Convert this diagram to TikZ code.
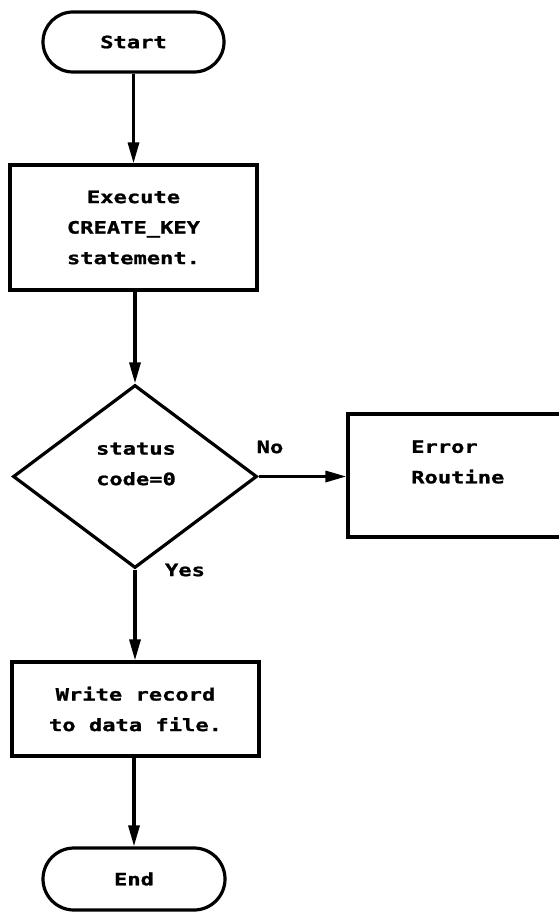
\documentclass[tikz,border=0pt]{standalone}
\usepackage{fontspec}
\newfontfamily\plotfont{DejaVu Sans Mono Bold}[FakeStretch=1.3, FakeBold=1.2]
\usetikzlibrary{shapes.geometric,shapes.misc,arrows.meta}
\begin{document}
\begin{tikzpicture}[x=1pt,y=-1pt,
  every node/.style={font=\plotfont\fontsize{17pt}{30.5pt}\selectfont, align=center, inner sep=0pt},
  outline/.style={draw=black, line width=3.2pt},
  terminal/.style={outline, rounded rectangle},
  process/.style={outline, rectangle},
  decision/.style={outline, diamond},
  flow/.style={line width=3.2pt, -{Triangle[length=21pt,width=11pt]}}
]
\useasboundingbox (0,0) rectangle (558,912);
\fill[white] (0,0) rectangle (558,912);

% shapes
\node[terminal, minimum width=181pt, minimum height=60pt] (start) at (133.5,42) {Start};
\node[process, minimum width=247pt, minimum height=125pt] (exec) at (133.5,227.5)
  {Execute\\CREATE\_KEY\\statement.};
\node[decision, minimum width=244pt, minimum height=183pt] (test) at (135,476.5) {};
\node (testtext) at (136,464) {status\\code=0};
\node[process, minimum width=252pt, minimum height=123pt] (err) at (474,475.5) {};
\node[anchor=west, align=left] (errtext) at (411,462) {Error\\Routine};
\node[process, minimum width=247pt, minimum height=94pt] (write) at (135.5,709)
  {Write record\\to data file.};
\node[terminal, minimum width=182pt, minimum height=62pt] (stop) at (134,879) {End};

% branch labels
\node (no) at (270,447) {No};
\node (yes) at (185,570) {Yes};

% connectors
\draw[flow] (start.south) -- (start.south |- exec.north);
\draw[flow] (exec.south -| test.north) -- (test.north);
\draw[flow] (test.east) -- (err.west |- test.east);
\draw[flow] (test.south) -- (test.south |- write.north);
\draw[flow] (write.south -| stop.north) -- (stop.north);
\end{tikzpicture}
\end{document}
